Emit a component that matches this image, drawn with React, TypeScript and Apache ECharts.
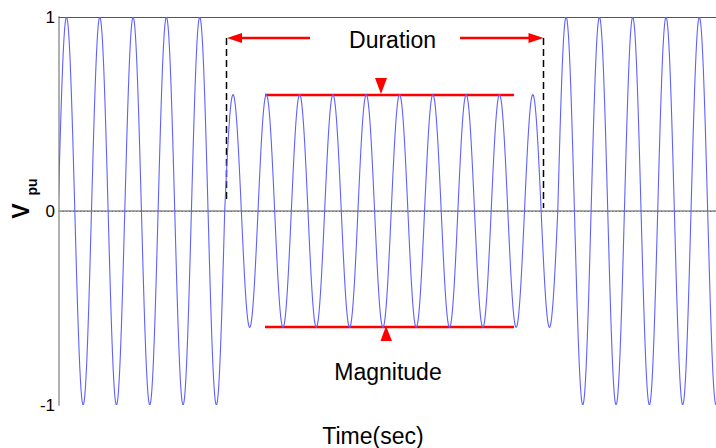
import React, { useEffect, useRef } from "react";
import * as echarts from "echarts";

// Waveform: one entry per half cycle (signed peak value, p.u.)
const halfCycleAmplitudes = [
  1, -1, 1, -1, 1, -1, 1, -1, 1, -1,
  0.6, -0.6, 0.6, -0.6, 0.6, -0.6, 0.6, -0.6, 0.6, -0.6,
  0.6, -0.6, 0.6, -0.6, 0.6, -0.6, 0.6, -0.6, 0.6, -0.6,
  1, -1, 1, -1, 1, -1, 1, -1, 1, -1,
];
const halfPeriod = 0.01; // s (50 Hz)
const firstCrossing = -0.0005; // s
const timeMax = 0.3945; // s
const yTicks = [-1, 0, 1];

const FONT = "Arial, 'Liberation Sans', sans-serif";

export default function App() {
  const ref = useRef<HTMLDivElement>(null);
  useEffect(() => {
    document.body.style.margin = "0";
    const chart = echarts.init(ref.current!, null, { renderer: "svg" });
    const halfCycles = halfCycleAmplitudes.map((a, i) => [
      firstCrossing + i * halfPeriod,
      firstCrossing + (i + 1) * halfPeriod,
      a,
    ]);
    const red = "#ff0000";
    chart.setOption({
      animation: false,
      backgroundColor: "#ffffff",
      grid: { left: 59, right: 0, top: 17, bottom: 43 },
      xAxis: [
        {
          type: "value",
          min: 0,
          max: timeMax,
          axisLine: { show: true, lineStyle: { color: "#8c8c8c", width: 1.5 } },
          axisTick: { show: false },
          axisLabel: { show: false },
          splitLine: { show: false },
        },
        {
          type: "value",
          position: "top",
          min: 0,
          max: timeMax,
          axisLine: { show: true, lineStyle: { color: "#555555", width: 1 } },
          axisTick: { show: false },
          axisLabel: { show: false },
          splitLine: { show: false },
        },
      ],
      yAxis: {
        type: "value",
        min: yTicks[0],
        max: yTicks[yTicks.length - 1],
        interval: 1,
        axisLine: { show: true, lineStyle: { color: "#b0b0b0", width: 2 } },
        axisTick: { show: false },
        axisLabel: {
          color: "#000",
          fontSize: 17,
          fontFamily: FONT,
          margin: 4,
        },
        splitLine: {
          show: true,
          lineStyle: {
            color: ["transparent", "#333333", "transparent"],
            type: [1.5, 2],
            width: 1,
          },
        },
      },
      series: [
        {
          type: "custom",
          clip: true,
          data: halfCycles,
          encode: { x: [0, 1], y: 2 },
          renderItem: (params: any, api: any) => {
            const t0 = api.value(0);
            const t1 = api.value(1);
            const a = api.value(2);
            const N = 30;
            const pts: number[][] = [];
            for (let i = 0; i <= N; i++) {
              const t = t0 + ((t1 - t0) * i) / N;
              pts.push(api.coord([t, a * Math.sin((Math.PI * i) / N)]));
            }
            return {
              type: "polyline",
              shape: { points: pts },
              style: { stroke: "#6060ff", lineWidth: 1.1, fill: null },
            };
          },
        },
      ],
      graphic: [
        // Duration markers
        { type: "line", shape: { x1: 226.5, y1: 38, x2: 226.5, y2: 201 }, style: { stroke: "#000", lineWidth: 1.5, lineDash: [7, 4] } },
        { type: "line", shape: { x1: 543.5, y1: 38, x2: 543.5, y2: 208 }, style: { stroke: "#000", lineWidth: 1.5, lineDash: [7, 4] } },
        { type: "line", shape: { x1: 240, y1: 38, x2: 310, y2: 38 }, style: { stroke: red, lineWidth: 2.5 } },
        { type: "polygon", shape: { points: [[227, 38], [242, 33], [242, 43]] }, style: { fill: red } },
        { type: "line", shape: { x1: 460, y1: 38, x2: 530, y2: 38 }, style: { stroke: red, lineWidth: 2.5 } },
        { type: "polygon", shape: { points: [[543.5, 38], [528.5, 33], [528.5, 43]] }, style: { fill: red } },
        { type: "text", x: 392.5, y: 40, style: { text: "Duration", font: `23px ${FONT}`, fill: "#000", textAlign: "center", textVerticalAlign: "middle" } },
        // Magnitude markers
        { type: "line", shape: { x1: 265, y1: 95, x2: 514, y2: 95 }, style: { stroke: red, lineWidth: 2.5 } },
        { type: "line", shape: { x1: 265, y1: 327, x2: 514, y2: 327 }, style: { stroke: red, lineWidth: 2.5 } },
        { type: "polygon", shape: { points: [[375, 78], [387, 78], [381, 94]] }, style: { fill: red } },
        { type: "polygon", shape: { points: [[380.5, 341], [392, 341], [386, 326]] }, style: { fill: red } },
        { type: "text", x: 388, y: 372, style: { text: "Magnitude", font: `23px ${FONT}`, fill: "#000", textAlign: "center", textVerticalAlign: "middle" } },
        // Axis titles
        { type: "text", x: 373, y: 436, style: { text: "Time(sec)", font: `23px ${FONT}`, fill: "#000", textAlign: "center", textVerticalAlign: "middle" } },
        { type: "text", x: 21, y: 211, rotation: Math.PI / 2, style: { text: "V", font: `bold 23px ${FONT}`, fill: "#000", textAlign: "center", textVerticalAlign: "middle" } },
        { type: "text", x: 32, y: 187, rotation: Math.PI / 2, style: { text: "pu", font: `bold 14px ${FONT}`, fill: "#000", textAlign: "center", textVerticalAlign: "middle" } },
      ],
    });
    return () => chart.dispose();
  }, []);
  return (
    <div
      ref={ref}
      style={{ position: "absolute", left: 0, top: 0, width: 716, height: 448 }}
    />
  );
}
